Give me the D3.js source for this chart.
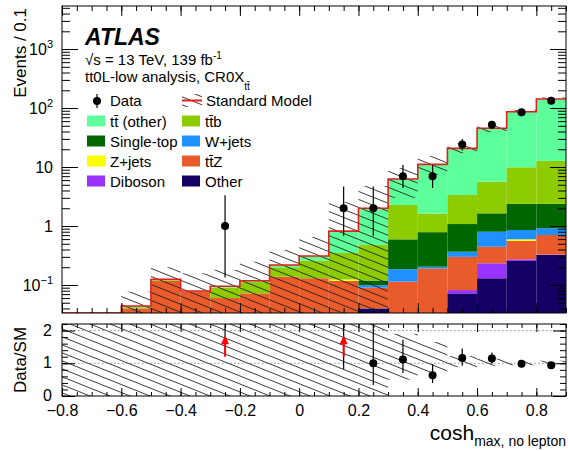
<!DOCTYPE html>
<html lang="en">
<head>
<meta charset="UTF-8">
<script src="https://d3js.org/d3.v7.min.js"></script>
<title>CR0X</title>
<style>
  body { margin: 0; background: #fff; }
  svg { font-family: "Liberation Sans", Arial, sans-serif; }
</style>
</head>
<body>
<script>
// bins of cosh_max (width 0.1)
var binLow = [-0.8, -0.7, -0.6, -0.5, -0.4, -0.3, -0.2, -0.1, 0.0, 0.1, 0.2, 0.3, 0.4, 0.5, 0.6, 0.7, 0.8];
var binWidth = 0.1;

// stacked backgrounds, bottom to top
var other     = [0, 0, 0, 0, 0, 0, 0, 0, 0, 0, 0.04, 0, 0, 0.072, 0.13, 0.255, 0.323];
var diboson   = [0, 0, 0, 0, 0, 0, 0, 0, 0, 0, 0, 0, 0, 0.01, 0.103, 0.017, 0.005];
var ttZ       = [0, 0, 0.040, 0.118, 0.077, 0.060, 0.072, 0.138, 0.13, 0.118, 0.05, 0.114, 0.19, 0.218, 0.213, 0.288, 0.377];
var zjets     = [0, 0, 0, 0, 0, 0, 0, 0, 0, 0.006, 0, 0, 0, 0, 0, 0.035, 0];
var wjets     = [0, 0, 0, 0, 0, 0, 0, 0, 0, 0, 0.009, 0.071, 0.014, 0.067, 0.354, 0.26, 0.21];
var singleTop = [0, 0, 0, 0, 0, 0, 0, 0, 0, 0, 0.02, 0.409, 0.582, 0.713, 0.84, 1.515, 1.46];
var ttb       = [0, 0, 0.002, 0.004, 0, 0.030, 0.040, 0.062, 0.128, 0.225, 0.356, 1.676, 0.84, 2.27, 4.0, 7.53, 10.33];
var ttOther   = [0, 0, 0.002, 0.003, 0.002, 0.005, 0.006, 0.018, 0.052, 0.47, 1.52, 4.0, 9.46, 17.35, 39.66, 76.6, 129.3];

// observed events
var data = [0, 0, 0, 0, 0, 1, 0, 0, 0, 2, 2, 7, 7, 24, 52, 85, 133];

// SM uncertainty band, relative to the SM total (main panel / ratio panel)
var bandHi  = [0, 0, 1.75, 1.6, 2.0, 1.9, 2.1, 1.8, 2.1, 3.1, 2.4, 1.53, 1.38, 1.22, 1.14, 1.08, 1.07];
var bandLo  = [0, 0, 0, 0, 0, 0, 0, 0, 0, 0, 0, 0.48, 0.66, 0.83, 0.86, 0.92, 0.93];
var ratioHi = [3, 3, 3, 3, 3, 3, 3, 3, 3, 3, 3, 1.9, 1.65, 1.22, 1.14, 1.09, 1.08];
var ratioLo = [0, 0, 0, 0, 0, 0, 0, 0, 0, 0, 0, 0.5, 0.72, 0.88, 0.92, 0.94, 0.93];

var xMajor = [-0.8, -0.6, -0.4, -0.2, 0, 0.2, 0.4, 0.6, 0.8];
var yMajor = [0.1, 1, 10, 100, 1000];
var yLabels = [["10", "\u22121"], ["1", ""], ["10", ""], ["10", "2"], ["10", "3"]];
var rMajor = [0, 1, 2];

var comps = [
  { name: "Other",      vals: other,     color: "#140064" },
  { name: "Diboson",    vals: diboson,   color: "#9933ff" },
  { name: "t\u0074\u0304Z", vals: ttZ,   color: "#ea5b2b" },
  { name: "Z+jets",     vals: zjets,     color: "#ffff00" },
  { name: "W+jets",     vals: wjets,     color: "#1e90ff" },
  { name: "Single-top", vals: singleTop, color: "#006600" },
  { name: "t\u0074\u0304b", vals: ttb,   color: "#8ccc00" },
  { name: "t\u0074\u0304 (other)", vals: ttOther, color: "#5dff9b" }
];

var total = binLow.map(function(b, i) {
  return d3.sum(comps, function(c) { return c.vals[i]; });
});

var svg = d3.select("body").append("svg").attr("width", 568).attr("height", 451);

var x = d3.scaleLinear().domain([-0.8, 0.9]).range([62, 566]);
var yMin = 0.0335;
var y = d3.scaleLog().domain([yMin, 5370]).range([313, 6]);
var yr = d3.scaleLinear().domain([0, 2.2]).range([396, 324]);

var defs = svg.append("defs");
defs.append("clipPath").attr("id", "clipMain").append("rect")
  .attr("x", 62).attr("y", 6).attr("width", 504).attr("height", 307);
defs.append("clipPath").attr("id", "clipRatio").append("rect")
  .attr("x", 62).attr("y", 324).attr("width", 504).attr("height", 72);
var pat = defs.append("pattern").attr("id", "hatch")
  .attr("patternUnits", "userSpaceOnUse").attr("width", 20).attr("height", 8);
pat.append("path")
  .attr("d", "M-5,-2L25,10M-5,6L5,10M15,-2L25,2")
  .attr("stroke", "#222").attr("stroke-width", 0.9).attr("fill", "none");

function yc(v) { return y(Math.max(v, yMin)); }

// ---------- main panel ----------
var main = svg.append("g").attr("clip-path", "url(#clipMain)");

binLow.forEach(function(b, i) {
  var cum = 0;
  comps.forEach(function(c) {
    var v = c.vals[i];
    if (v > 0) {
      main.append("rect")
        .attr("x", x(b)).attr("width", x(b + binWidth) - x(b))
        .attr("y", yc(cum + v)).attr("height", yc(cum) - yc(cum + v))
        .attr("fill", c.color);
    }
    cum += v;
  });
});

// uncertainty hatching
binLow.forEach(function(b, i) {
  if (total[i] <= 0) return;
  var top = yc(total[i] * bandHi[i]), bot = yc(total[i] * bandLo[i]);
  main.append("rect")
    .attr("x", x(b)).attr("width", x(b + binWidth) - x(b))
    .attr("y", top).attr("height", bot - top)
    .attr("fill", "url(#hatch)");
});

// SM total outline
var step = "";
binLow.forEach(function(b, i) {
  var yy = yc(total[i]);
  step += (i === 0 ? "M" : "L") + x(b) + "," + yy + "L" + x(b + binWidth) + "," + yy;
});
main.append("path").attr("d", step).attr("fill", "none")
  .attr("stroke", "#e0201c").attr("stroke-width", 1.6);

// data
function errLo(n) { return n - Math.sqrt(n - 0.25); }
function errHi(n) { return n + 1 + Math.sqrt(n + 0.75); }

binLow.forEach(function(b, i) {
  var n = data[i];
  if (n <= 0) return;
  var cx = x(b + binWidth / 2);
  main.append("line").attr("x1", cx).attr("x2", cx)
    .attr("y1", yc(errLo(n))).attr("y2", yc(errHi(n)))
    .attr("stroke", "#000").attr("stroke-width", 1.2);
  main.append("circle").attr("cx", cx).attr("cy", y(n)).attr("r", 4).attr("fill", "#000");
});

// axes of main panel
function noDomain(g) { g.select(".domain").remove(); }
var xMinor = d3.range(-16, 19).map(function(d) { return d * 0.05; });
var yMinor = [];
[0.01, 0.1, 1, 10, 100, 1000].forEach(function(dec) {
  d3.range(2, 10).forEach(function(k) {
    var v = dec * k;
    if (v > yMin && v < 5370) yMinor.push(v);
  });
});

svg.append("g").attr("transform", "translate(0,313)")
  .call(d3.axisBottom(x).tickValues(xMinor).tickSize(-5).tickFormat("")).call(noDomain);
svg.append("g").attr("transform", "translate(0,313)")
  .call(d3.axisBottom(x).tickValues(xMajor).tickSize(-10).tickFormat("")).call(noDomain);
svg.append("g").attr("transform", "translate(0,6)")
  .call(d3.axisTop(x).tickValues(xMinor).tickSize(-5).tickFormat("")).call(noDomain);
svg.append("g").attr("transform", "translate(0,6)")
  .call(d3.axisTop(x).tickValues(xMajor).tickSize(-10).tickFormat("")).call(noDomain);
svg.append("g").attr("transform", "translate(62,0)")
  .call(d3.axisLeft(y).tickValues(yMinor).tickSize(-8).tickFormat("")).call(noDomain);
svg.append("g").attr("transform", "translate(62,0)")
  .call(d3.axisLeft(y).tickValues(yMajor).tickSize(-16).tickFormat("")).call(noDomain);
svg.append("g").attr("transform", "translate(566,0)")
  .call(d3.axisRight(y).tickValues(yMinor).tickSize(-8).tickFormat("")).call(noDomain);
svg.append("g").attr("transform", "translate(566,0)")
  .call(d3.axisRight(y).tickValues(yMajor).tickSize(-16).tickFormat("")).call(noDomain);

yMajor.forEach(function(v, i) {
  var t = svg.append("text").attr("x", 53).attr("y", y(v) + 6)
    .attr("text-anchor", "end").attr("font-size", 16).text(yLabels[i][0]);
  if (yLabels[i][1]) {
    t.append("tspan").attr("dy", -7).attr("font-size", 11).text(yLabels[i][1]);
  }
});
svg.selectAll("g.tick line").attr("stroke", "#000");

svg.append("rect").attr("x", 62).attr("y", 6).attr("width", 504).attr("height", 307)
  .attr("fill", "none").attr("stroke", "#000").attr("stroke-width", 1);

svg.append("text").attr("transform", "translate(26,8) rotate(-90)")
  .attr("text-anchor", "end").attr("font-size", 17).text("Events / 0.1");

// labels
svg.append("text").attr("x", 85).attr("y", 45).attr("font-size", 23)
  .attr("font-weight", "bold").attr("font-style", "italic").text("ATLAS");
var l1 = svg.append("text").attr("x", 85).attr("y", 65).attr("font-size", 15);
l1.append("tspan").text("\u221As = 13 TeV, 139 fb");
l1.append("tspan").attr("dy", -6).attr("font-size", 10).text("-1");
var l2 = svg.append("text").attr("x", 85).attr("y", 82).attr("font-size", 15);
l2.append("tspan").text("tt0L-low analysis, CR0X");
l2.append("tspan").attr("dy", 8).attr("font-size", 10).text("t\u0074\u0304");

// legend
var legRows = [121.5, 141.5, 161.5, 181.5];
var legCols = [87, 182];
var legOrder = [7, 6, 5, 4, 3, 2, 1, 0];
legOrder.forEach(function(ci, k) {
  var c = comps[ci];
  var lx = legCols[k % 2], ly = legRows[Math.floor(k / 2)];
  svg.append("rect").attr("x", lx).attr("y", ly - 6).attr("width", 18).attr("height", 11)
    .attr("fill", c.color);
  svg.append("text").attr("x", lx + 23).attr("y", ly + 5).attr("font-size", 15).text(c.name);
});
svg.append("line").attr("x1", 97).attr("x2", 97).attr("y1", 94).attr("y2", 108)
  .attr("stroke", "#000").attr("stroke-width", 1.2);
svg.append("circle").attr("cx", 97).attr("cy", 101).attr("r", 4).attr("fill", "#000");
svg.append("text").attr("x", 110).attr("y", 106).attr("font-size", 15).text("Data");
svg.append("rect").attr("x", 182).attr("y", 94).attr("width", 20).attr("height", 13)
  .attr("fill", "url(#hatch)");
svg.append("line").attr("x1", 182).attr("x2", 202).attr("y1", 100.5).attr("y2", 100.5)
  .attr("stroke", "#e0201c").attr("stroke-width", 2);
svg.append("text").attr("x", 206).attr("y", 106).attr("font-size", 15).text("Standard Model");

// ---------- ratio panel ----------
var ratio = svg.append("g").attr("clip-path", "url(#clipRatio)");

binLow.forEach(function(b, i) {
  var top = yr(Math.min(ratioHi[i], 2.3)), bot = yr(ratioLo[i]);
  ratio.append("rect")
    .attr("x", x(b)).attr("width", x(b + binWidth) - x(b))
    .attr("y", top).attr("height", bot - top)
    .attr("fill", "url(#hatch)");
});

[1, 2].forEach(function(v) {
  ratio.append("line").attr("x1", 62).attr("x2", 566).attr("y1", yr(v)).attr("y2", yr(v))
    .attr("stroke", "#888").attr("stroke-dasharray", "1.5,2.5");
});

binLow.forEach(function(b, i) {
  var n = data[i];
  if (n <= 0 || total[i] <= 0) return;
  var cx = x(b + binWidth / 2);
  var r = n / total[i];
  var lo = errLo(n) / total[i], hi = errHi(n) / total[i];
  ratio.append("line").attr("x1", cx).attr("x2", cx)
    .attr("y1", yr(Math.min(lo, 2.3))).attr("y2", yr(Math.min(hi, 2.3)))
    .attr("stroke", "#000").attr("stroke-width", 1.2);
  if (r > 2.2) {
    ratio.append("line").attr("x1", cx).attr("x2", cx)
      .attr("y1", yr(1.2)).attr("y2", yr(1.6))
      .attr("stroke", "#ff0000").attr("stroke-width", 2);
    ratio.append("path")
      .attr("d", "M" + (cx - 4) + "," + yr(1.58) + "L" + cx + "," + yr(1.86) + "L" + (cx + 4) + "," + yr(1.58) + "Z")
      .attr("fill", "#ff0000");
  } else {
    ratio.append("circle").attr("cx", cx).attr("cy", yr(r)).attr("r", 4).attr("fill", "#000");
  }
});

var rMinor = d3.range(0, 12).map(function(d) { return d * 0.2; });
svg.append("g").attr("transform", "translate(0,396)")
  .call(d3.axisBottom(x).tickValues(xMinor).tickSize(-4).tickFormat("")).call(noDomain);
svg.append("g").attr("transform", "translate(0,396)")
  .call(d3.axisBottom(x).tickValues(xMajor).tickSize(-8).tickPadding(9)
    .tickFormat(function(d) { return d === 0 ? "0" : d3.format(".1f")(d); }))
  .call(noDomain)
  .selectAll("text").attr("font-size", 16).attr("font-family", "Liberation Sans, Arial, sans-serif");
svg.append("g").attr("transform", "translate(0,324)")
  .call(d3.axisTop(x).tickValues(xMinor).tickSize(-4).tickFormat("")).call(noDomain);
svg.append("g").attr("transform", "translate(0,324)")
  .call(d3.axisTop(x).tickValues(xMajor).tickSize(-8).tickFormat("")).call(noDomain);
svg.append("g").attr("transform", "translate(62,0)")
  .call(d3.axisLeft(yr).tickValues(rMinor).tickSize(-6).tickFormat("")).call(noDomain);
svg.append("g").attr("transform", "translate(62,0)")
  .call(d3.axisLeft(yr).tickValues(rMajor).tickSize(-13).tickFormat("")).call(noDomain);
svg.append("g").attr("transform", "translate(566,0)")
  .call(d3.axisRight(yr).tickValues(rMinor).tickSize(-6).tickFormat("")).call(noDomain);
svg.append("g").attr("transform", "translate(566,0)")
  .call(d3.axisRight(yr).tickValues(rMajor).tickSize(-13).tickFormat("")).call(noDomain);
svg.selectAll("g.tick line").attr("stroke", "#000");

rMajor.forEach(function(v) {
  svg.append("text").attr("x", 52).attr("y", yr(v) + 5)
    .attr("text-anchor", "end").attr("font-size", 16).text(v);
});

svg.append("rect").attr("x", 62).attr("y", 324).attr("width", 504).attr("height", 72)
  .attr("fill", "none").attr("stroke", "#000").attr("stroke-width", 1);

svg.append("text").attr("transform", "translate(26,360) rotate(-90)")
  .attr("text-anchor", "middle").attr("font-size", 17).text("Data/SM");

var xt = svg.append("text").attr("x", 566).attr("y", 440).attr("text-anchor", "end").attr("font-size", 21);
xt.append("tspan").text("cosh");
xt.append("tspan").attr("dy", 6).attr("font-size", 14).text("max, no lepton");
</script>
</body>
</html>
